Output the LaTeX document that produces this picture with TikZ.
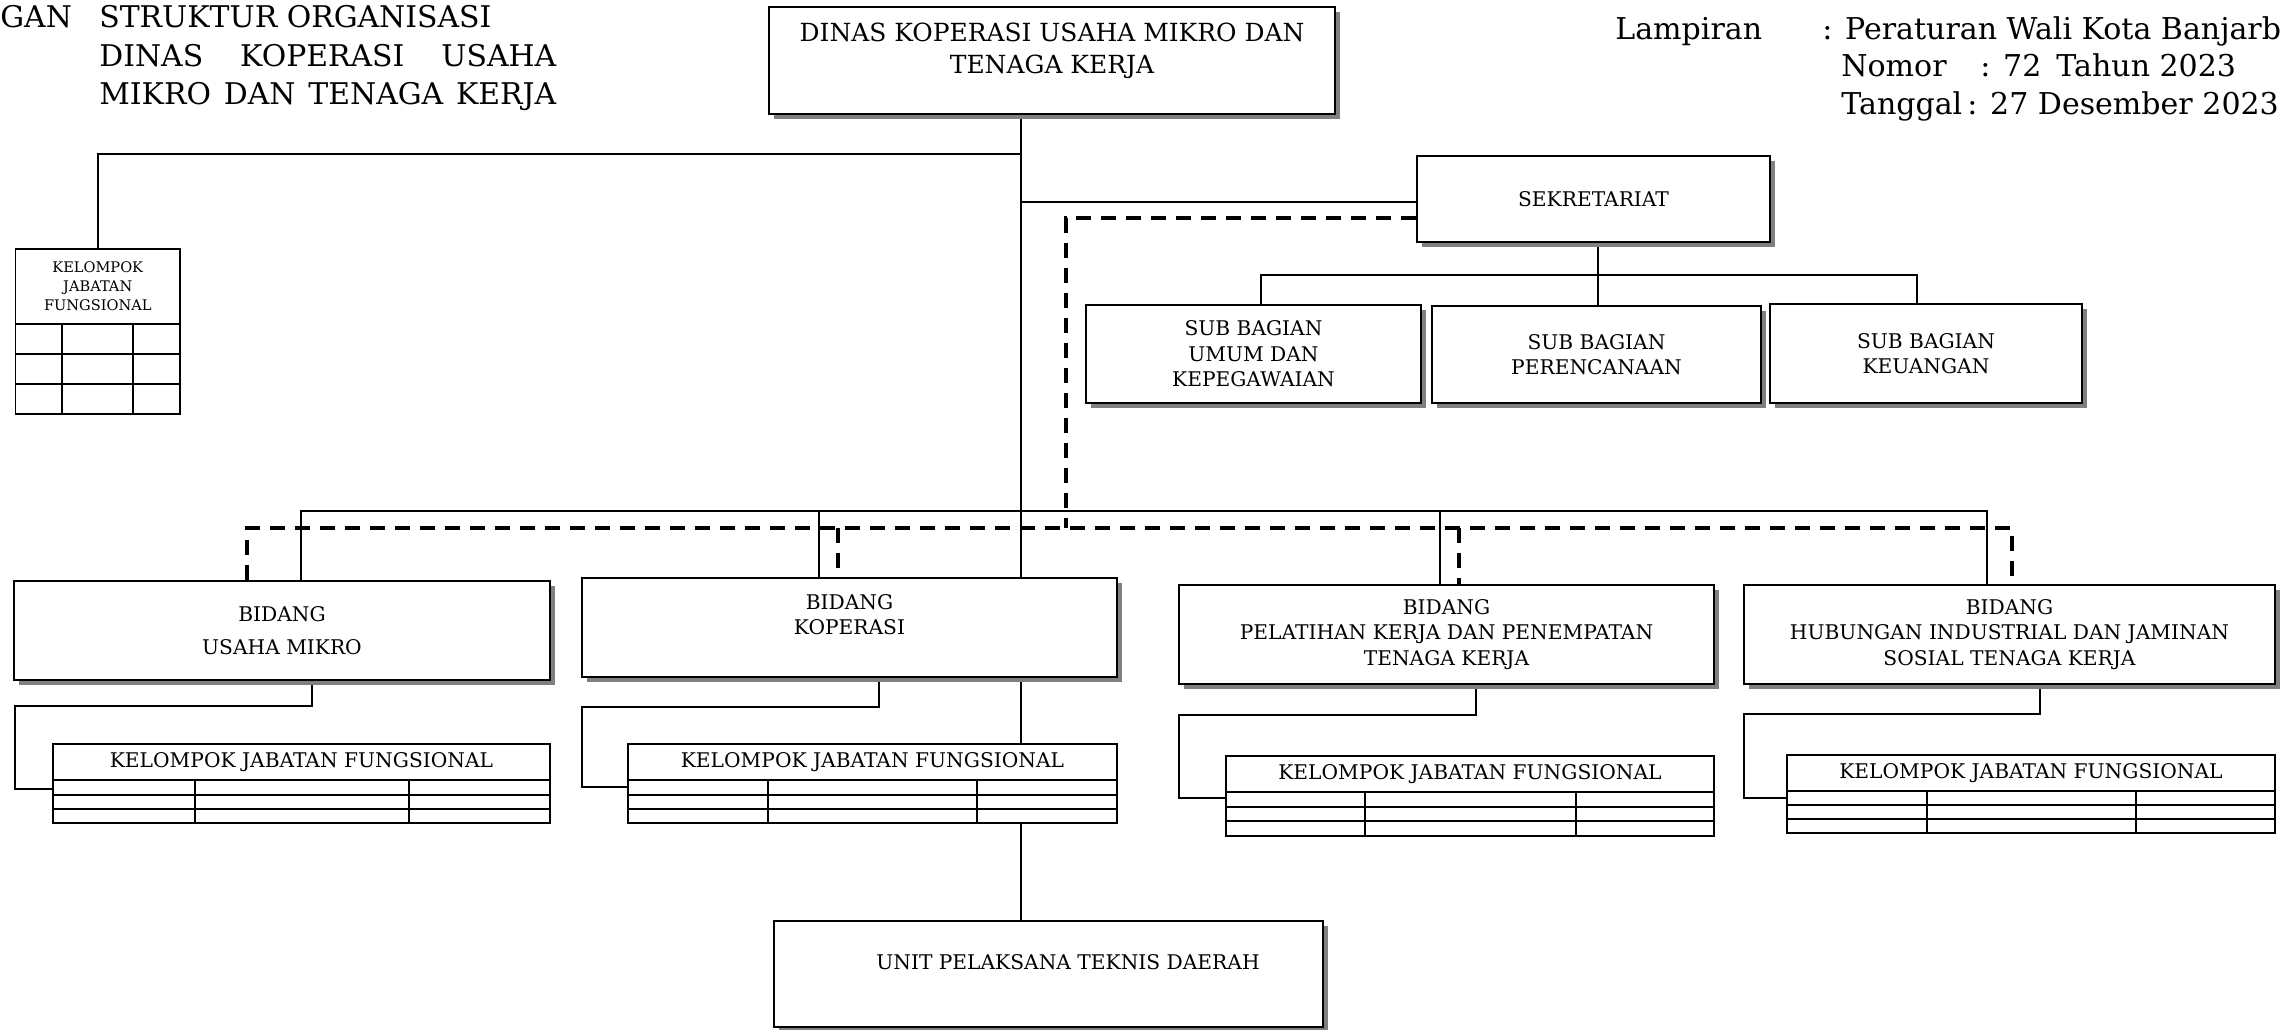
\documentclass[tikz,border=0pt]{standalone}
\usepackage{fontspec}
\setmainfont{DejaVu Serif}
\usetikzlibrary{shadows}
\pgfdeclarelayer{background}
\pgfsetlayers{background,main}

\tikzset{
  kotak/.style={draw, line width=1.1pt, fill=white, inner sep=0pt, align=center,
    font=\fontsize{11.5}{14.5}\selectfont,
    drop shadow={shadow xshift=0.1cm, shadow yshift=-0.1cm, fill=black!50, opacity=1}},
  tabel/.style={draw, line width=1.1pt, fill=white, inner sep=0pt, align=center,
    font=\fontsize{11.5}{14.5}\selectfont},
  ukuran/.style 2 args={minimum width=#1*0.02cm, minimum height=#2*0.02cm},
  teks/.style={inner sep=0pt, align=center, font=\fontsize{11.5}{14.5}\selectfont},
  judul/.style={inner sep=0pt, font=\fontsize{17}{20}\selectfont},
  lamp/.style={inner sep=0pt, font=\fontsize{17.1}{20}\selectfont},
  garis/.style={line width=0.9pt},
  putus/.style={line width=2.2pt, dash pattern=on 0.3cm off 0.2cm},
}

\begin{document}
\begin{tikzpicture}[x=0.02cm, y=-0.02cm]
\useasboundingbox (0,0) rectangle (2283,1030);
%judul
\node[judul, anchor=base west] (gan) at (0,28) {GAN};
\node[judul, anchor=base west] (judul1) at (99,28) {STRUKTUR ORGANISASI};
\node[judul, anchor=base west] (judul2) at (99,67) {\makebox[9.14cm][s]{DINAS KOPERASI USAHA}};
\node[judul, anchor=base west] (judul3) at (99,105) {\makebox[9.14cm][s]{MIKRO DAN TENAGA KERJA}};
%lampiran
\node[lamp, anchor=base west] (lampiran) at (1615,40) {Lampiran};
\node[lamp, anchor=base west] (peraturan) at (1822,40) {: Peraturan Wali Kota Banjarb};
\node[lamp, anchor=base west] (nomor) at (1841,77) {\makebox[2.78cm][l]{Nomor}: 72\enspace Tahun 2023};
\node[lamp, anchor=base west] (tanggal) at (1841,115) {Tanggal\,: 27 Desember 2023};

%kepala dinas
\node[kotak, ukuran={566}{107}] (dinas) at (1052,60.5) {};
\node[teks, font=\fontsize{14.2}{18.2}\selectfont] (dinasteks) at (1052,51) {DINAS KOPERASI USAHA MIKRO DAN\\TENAGA KERJA};

%sekretariat
\node[kotak, ukuran={353}{86}] (sekretariat) at (1593.5,199) {SEKRETARIAT};
\node[kotak, ukuran={335}{98}] (umum) at (1253.5,354) {SUB BAGIAN\\UMUM DAN\\KEPEGAWAIAN};
\node[kotak, ukuran={329}{97}] (perencanaan) at (1596.5,354.5) {SUB BAGIAN\\PERENCANAAN};
\node[kotak, ukuran={312}{99}] (keuangan) at (1926,353.5) {SUB BAGIAN\\KEUANGAN};

%kelompok jabatan fungsional dinas
\node[tabel, ukuran={164.5}{75}, font=\fontsize{8.3}{10.8}\selectfont] (kjf0) at (97.75,286.5) {KELOMPOK\\JABATAN\\FUNGSIONAL};
\node[tabel, ukuran={164.5}{90}] (kjf0isi) at (97.75,369) {};
\draw[line width=1.1pt] (15.5,354) -- (180,354) (15.5,384) -- (180,384) (62,324) -- (62,414) (133,324) -- (133,414);

%bidang
\node[kotak, ukuran={536}{99}] (mikro) at (282,630.5) {BIDANG\\[4pt]USAHA MIKRO};
\node[kotak, ukuran={535}{99}] (koperasi) at (849.5,627.5) {};
\node[teks] (koperasiteks) at (849.5,614.5) {BIDANG\\KOPERASI};
\node[kotak, ukuran={535}{99}] (pelatihan) at (1446.5,634.5) {BIDANG\\PELATIHAN KERJA DAN PENEMPATAN\\TENAGA KERJA};
\node[kotak, ukuran={531}{99}] (hubungan) at (2009.5,634.5) {BIDANG\\HUBUNGAN INDUSTRIAL DAN JAMINAN\\SOSIAL TENAGA KERJA};

%kelompok jabatan fungsional bidang
\node[tabel, ukuran={497}{36}] (kjf1) at (301.5,762) {KELOMPOK JABATAN FUNGSIONAL};
\node[tabel, ukuran={497}{43}] (kjf1isi) at (301.5,801.5) {};
\draw[line width=1.1pt] (53,795) -- (550,795) (53,809) -- (550,809) (195,780) -- (195,823) (409,780) -- (409,823);
\node[tabel, ukuran={489}{36}] (kjf2) at (872.5,762) {KELOMPOK JABATAN FUNGSIONAL};
\node[tabel, ukuran={489}{43}] (kjf2isi) at (872.5,801.5) {};
\draw[line width=1.1pt] (628,795) -- (1117,795) (628,809) -- (1117,809) (768,780) -- (768,823) (977,780) -- (977,823);
\node[tabel, ukuran={488}{36}] (kjf3) at (1470,774) {KELOMPOK JABATAN FUNGSIONAL};
\node[tabel, ukuran={488}{44}] (kjf3isi) at (1470,814) {};
\draw[line width=1.1pt] (1226,807) -- (1714,807) (1226,821) -- (1714,821) (1365,792) -- (1365,836) (1576,792) -- (1576,836);
\node[tabel, ukuran={488}{36}] (kjf4) at (2031,773) {KELOMPOK JABATAN FUNGSIONAL};
\node[tabel, ukuran={488}{42}] (kjf4isi) at (2031,812) {};
\draw[line width=1.1pt] (1787,805) -- (2275,805) (1787,819) -- (2275,819) (1927,791) -- (1927,833) (2136,791) -- (2136,833);

%upt daerah
\node[kotak, ukuran={549}{106}] (uptd) at (1048.5,974) {};
\node[teks] (uptdteks) at (1068,962) {UNIT PELAKSANA TEKNIS DAERAH};

\begin{pgfonlayer}{background}
%garis komando
\coordinate (t) at (1021,0);
\draw[garis] (t |- dinas.south) -- (t |- uptd.north);
\coordinate (kiri) at (98,154);
\draw[garis] (t |- kiri) -- (kiri) -- (kiri |- kjf0.north);
\coordinate (s) at (1021,202);
\draw[garis] (s) -- (s -| sekretariat.west);
\coordinate (sb) at (1598,275);
\coordinate (sbL) at (1261,275);
\coordinate (sbR) at (1917,275);
\draw[garis] (sb |- sekretariat.south) -- (sb |- perencanaan.north);
\draw[garis] (sbL |- umum.north) -- (sbL) -- (sbR) -- (sbR |- keuangan.north);
\coordinate (bL) at (301,511);
\coordinate (bR) at (1987,511);
\coordinate (bK) at (819,511);
\coordinate (bP) at (1440,511);
\draw[garis] (bL |- mikro.north) -- (bL) -- (bR) -- (bR |- hubungan.north);
\draw[garis] (bK) -- (bK |- koperasi.north);
\draw[garis] (bP) -- (bP |- pelatihan.north);
%garis koordinasi
\coordinate (d1) at (1066,218);
\coordinate (d2) at (1066,528);
\draw[putus] (d1 -| sekretariat.west) -- (d1) -- (d2);
\coordinate (dL) at (247,528);
\coordinate (dR) at (2012,528);
\coordinate (dK) at (838,528);
\coordinate (dP) at (1459,528);
\draw[putus] (dL |- mikro.north) -- (dL) -- (dR) -- (dR |- hubungan.north);
\draw[putus] (dK) -- (dK |- koperasi.north);
\draw[putus] (dP) -- (dP |- pelatihan.north);
%bidang ke kelompok jabatan fungsional
\coordinate (m1) at (312,706);
\coordinate (m2) at (15,789);
\draw[garis] (m1 |- mikro.south) -- (m1) -| (m2) -- (m2 -| kjf1isi.west);
\coordinate (k1) at (879,707);
\coordinate (k2) at (582,787);
\draw[garis] (k1 |- koperasi.south) -- (k1) -| (k2) -- (k2 -| kjf2isi.west);
\coordinate (p1) at (1476,715);
\coordinate (p2) at (1179,798);
\draw[garis] (p1 |- pelatihan.south) -- (p1) -| (p2) -- (p2 -| kjf3isi.west);
\coordinate (h1) at (2040,714);
\coordinate (h2) at (1744,798);
\draw[garis] (h1 |- hubungan.south) -- (h1) -| (h2) -- (h2 -| kjf4isi.west);
\end{pgfonlayer}
\end{tikzpicture}
\end{document}
